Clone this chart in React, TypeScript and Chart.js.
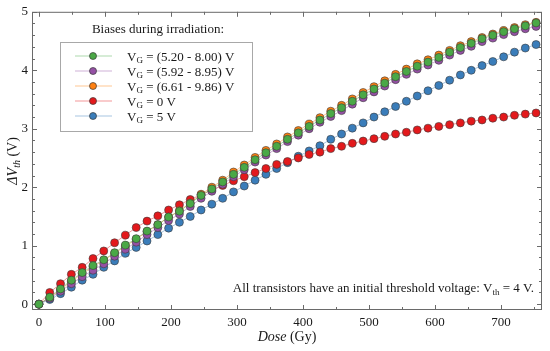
import React, { useEffect, useRef } from 'react';
import { Chart, registerables } from 'chart.js';

Chart.register(...registerables);

const doses = [0, 16.4, 32.7, 49.1, 65.5, 81.9, 98.2, 114.6, 131.0, 147.3, 163.7, 180.1, 196.4, 212.8, 229.2, 245.6, 261.9, 278.3, 294.7, 311.0, 327.4, 343.8, 360.1, 376.5, 392.9, 409.3, 425.6, 442.0, 458.4, 474.7, 491.1, 507.5, 523.8, 540.2, 556.6, 573.0, 589.3, 605.7, 622.1, 638.4, 654.8, 671.2, 687.5, 703.9, 720.3, 736.7, 753.0];

const vgRange1 = [0, 0.12, 0.26, 0.41, 0.54, 0.66, 0.76, 0.88, 1.01, 1.12, 1.25, 1.36, 1.49, 1.59, 1.72, 1.86, 1.97, 2.09, 2.22, 2.34, 2.47, 2.59, 2.70, 2.82, 2.93, 3.04, 3.15, 3.26, 3.36, 3.47, 3.58, 3.68, 3.78, 3.89, 3.98, 4.07, 4.14, 4.22, 4.31, 4.39, 4.46, 4.54, 4.60, 4.66, 4.71, 4.76, 4.81];
const vgRange2 = [0, 0.10, 0.22, 0.35, 0.47, 0.58, 0.69, 0.82, 0.94, 1.06, 1.19, 1.31, 1.43, 1.54, 1.67, 1.81, 1.93, 2.05, 2.18, 2.30, 2.43, 2.55, 2.66, 2.78, 2.89, 3.00, 3.11, 3.21, 3.31, 3.42, 3.53, 3.63, 3.73, 3.84, 3.93, 4.02, 4.09, 4.17, 4.26, 4.34, 4.41, 4.49, 4.55, 4.61, 4.66, 4.71, 4.75];
const vgRange3 = [0, 0.11, 0.25, 0.39, 0.52, 0.64, 0.75, 0.87, 0.99, 1.11, 1.24, 1.36, 1.49, 1.60, 1.73, 1.88, 2.00, 2.12, 2.26, 2.38, 2.51, 2.63, 2.74, 2.86, 2.97, 3.08, 3.19, 3.30, 3.40, 3.51, 3.62, 3.72, 3.82, 3.93, 4.02, 4.11, 4.18, 4.26, 4.34, 4.42, 4.49, 4.56, 4.62, 4.68, 4.73, 4.78, 4.82];
const vgZero = [0, 0.20, 0.35, 0.51, 0.63, 0.78, 0.91, 1.05, 1.18, 1.31, 1.42, 1.51, 1.61, 1.70, 1.79, 1.87, 1.95, 2.03, 2.11, 2.18, 2.25, 2.32, 2.39, 2.44, 2.50, 2.56, 2.60, 2.66, 2.70, 2.75, 2.79, 2.83, 2.87, 2.91, 2.94, 2.98, 3.01, 3.04, 3.07, 3.10, 3.13, 3.15, 3.18, 3.20, 3.23, 3.25, 3.27];
const vgFive = [0, 0.08, 0.18, 0.29, 0.41, 0.51, 0.63, 0.74, 0.87, 0.97, 1.08, 1.19, 1.30, 1.40, 1.50, 1.61, 1.71, 1.81, 1.92, 2.02, 2.12, 2.22, 2.32, 2.42, 2.53, 2.62, 2.71, 2.82, 2.91, 3.01, 3.10, 3.20, 3.29, 3.38, 3.47, 3.56, 3.65, 3.74, 3.83, 3.92, 4.00, 4.08, 4.15, 4.23, 4.31, 4.38, 4.44];

const seriesLabels = [' = (5.20 - 8.00) V', ' = (5.92 - 8.95) V', ' = (6.61 - 9.86) V', ' = 0 V', ' = 5 V'];
const pointColors = ['#4aa846', '#9550a5', '#ff8010', '#e3191c', '#3a7dba'];
const lineColors = ['rgba(74,168,70,0.45)', 'rgba(149,80,165,0.45)', 'rgba(255,128,16,0.45)', 'rgba(227,25,28,0.45)', 'rgba(58,125,186,0.45)'];
const seriesValues = [vgRange1, vgRange2, vgRange3, vgZero, vgFive];

const xTickValues = [0, 100, 200, 300, 400, 500, 600, 700];
const yTickValues = [0, 1, 2, 3, 4, 5];
const xMinorStep = 50;
const yMinorStep = 0.2;

const legendTitle = 'Biases during irradiation:';
const noteText = 'All transistors have an initial threshold voltage: V';
const noteSub = 'th';
const noteTail = ' = 4 V.';

const FONT = '"Liberation Serif", "Times New Roman", serif';

type Part = { t: string; italic?: boolean; sub?: boolean };

function drawRich(ctx: CanvasRenderingContext2D, parts: Part[], x: number, y: number, size: number, align: 'left' | 'center' | 'right') {
  const subSize = Math.round(size * 0.68);
  const fontOf = (p: Part) => `${p.italic ? 'italic ' : ''}${p.sub ? subSize : size}px ${FONT}`;
  let total = 0;
  const widths = parts.map((p) => {
    ctx.font = fontOf(p);
    const w = ctx.measureText(p.t).width;
    total += w;
    return w;
  });
  let cx = align === 'left' ? x : align === 'center' ? x - total / 2 : x - total;
  ctx.textAlign = 'left';
  ctx.textBaseline = 'alphabetic';
  parts.forEach((p, i) => {
    ctx.font = fontOf(p);
    ctx.fillText(p.t, cx, y + (p.sub ? size * 0.22 : 0));
    cx += widths[i];
  });
}

const decorPlugin = {
  id: 'decor',
  beforeDatasetsDraw(chart: any) {
    const { ctx, chartArea: a, scales } = chart;
    const xs = scales.x;
    const ys = scales.y;
    ctx.save();
    ctx.strokeStyle = '#6a6a6a';
    ctx.lineWidth = 1;
    ctx.strokeRect(a.left + 0.5, a.top + 0.5, a.right - a.left - 1, a.bottom - a.top - 1);
    ctx.beginPath();
    for (let v = 0; v <= 750 + 1e-6; v += xMinorStep) {
      const px = Math.round(xs.getPixelForValue(v)) + 0.5;
      const major = Math.abs(v / 100 - Math.round(v / 100)) < 1e-6;
      const len = major ? 5 : 3;
      ctx.moveTo(px, a.bottom);
      ctx.lineTo(px, a.bottom - len);
      ctx.moveTo(px, a.top);
      ctx.lineTo(px, a.top + len);
    }
    for (let v = 0; v <= 5 + 1e-6; v += yMinorStep) {
      const py = Math.round(ys.getPixelForValue(v)) + 0.5;
      const major = Math.abs(v - Math.round(v)) < 1e-6;
      const len = major ? 5 : 3;
      ctx.moveTo(a.left, py);
      ctx.lineTo(a.left + len, py);
      ctx.moveTo(a.right, py);
      ctx.lineTo(a.right - len, py);
    }
    ctx.stroke();
    ctx.restore();
  },
  afterDatasetsDraw(chart: any) {
    const { ctx, chartArea: a } = chart;
    ctx.save();
    ctx.fillStyle = '#1a1a1a';
    // legend title
    ctx.font = `13px ${FONT}`;
    ctx.textAlign = 'center';
    ctx.textBaseline = 'middle';
    ctx.fillText(legendTitle, 158, 30);
    // legend box
    ctx.fillStyle = '#ffffff';
    ctx.fillRect(60, 42, 192, 89);
    ctx.strokeStyle = '#a8a8a8';
    ctx.lineWidth = 1;
    ctx.strokeRect(60.5, 42.5, 192, 89);
    const rows = [56, 71, 86, 101, 116];
    rows.forEach((ry, i) => {
      ctx.strokeStyle = lineColors[i];
      ctx.lineWidth = 1;
      ctx.beginPath();
      ctx.moveTo(75, ry);
      ctx.lineTo(112, ry);
      ctx.stroke();
      ctx.beginPath();
      ctx.arc(93, ry, 3.5, 0, Math.PI * 2);
      ctx.fillStyle = pointColors[i];
      ctx.fill();
      ctx.strokeStyle = '#3a3a3a';
      ctx.lineWidth = 0.7;
      ctx.stroke();
      ctx.fillStyle = '#1a1a1a';
      drawRich(ctx, [{ t: 'V' }, { t: 'G', sub: true }, { t: seriesLabels[i] }], 127, ry + 4.5, 13, 'left');
    });
    // note
    ctx.fillStyle = '#1a1a1a';
    drawRich(ctx, [{ t: noteText }, { t: noteSub, sub: true }, { t: noteTail }], 534, 292, 13, 'right');
    // x title
    drawRich(ctx, [{ t: 'Dose', italic: true }, { t: ' (Gy)' }], (a.left + a.right) / 2, 341, 14, 'center');
    // y title
    ctx.save();
    ctx.translate(17, (a.top + a.bottom) / 2);
    ctx.rotate(-Math.PI / 2);
    drawRich(ctx, [{ t: 'ΔV', italic: true }, { t: 'th', italic: true, sub: true }, { t: ' (V)' }], 0, 0, 14, 'center');
    ctx.restore();
    ctx.restore();
  },
};

export default function App() {
  const ref = useRef<HTMLCanvasElement>(null);
  useEffect(() => {
    if (!ref.current) return;
    const chart = new Chart(ref.current, {
      type: 'line',
      data: {
        datasets: seriesValues.map((vals, i) => ({
          label: 'V_G' + seriesLabels[i],
          data: vals.map((v, j) => ({ x: doses[j], y: v })),
          borderColor: lineColors[i],
          borderWidth: 1,
          backgroundColor: pointColors[i],
          pointBackgroundColor: pointColors[i],
          pointBorderColor: '#3a3a3a',
          pointBorderWidth: 0.6,
          pointRadius: 4,
          tension: 0,
          clip: false as any,
        })),
      },
      options: {
        responsive: false,
        animation: false,
        layout: { padding: { top: 8, right: 8, left: 0, bottom: 0 } },
        plugins: { legend: { display: false }, tooltip: { enabled: false } },
        scales: {
          x: {
            type: 'linear',
            min: -10.5,
            max: 762,
            grid: { display: false, drawTicks: false },
            border: { display: false },
            afterBuildTicks: (s: any) => { s.ticks = xTickValues.map((v) => ({ value: v })); },
            afterFit: (s: any) => { s.height = 41; },
            ticks: { color: '#1a1a1a', font: { family: FONT, size: 13 }, padding: 5, maxRotation: 0 },
          },
          y: {
            type: 'linear',
            min: -0.1,
            max: 5,
            grid: { display: false, drawTicks: false },
            border: { display: false },
            afterBuildTicks: (s: any) => { s.ticks = yTickValues.map((v) => ({ value: v })); },
            afterFit: (s: any) => { s.width = 32; },
            ticks: { color: '#1a1a1a', font: { family: FONT, size: 13 }, padding: 4 },
          },
        },
      },
      plugins: [decorPlugin],
    });
    return () => chart.destroy();
  }, []);
  return (
    <div style={{ position: 'fixed', left: 0, top: 0, width: 550, height: 351, background: '#fff' }}>
      <canvas ref={ref} width={550} height={351} />
    </div>
  );
}
